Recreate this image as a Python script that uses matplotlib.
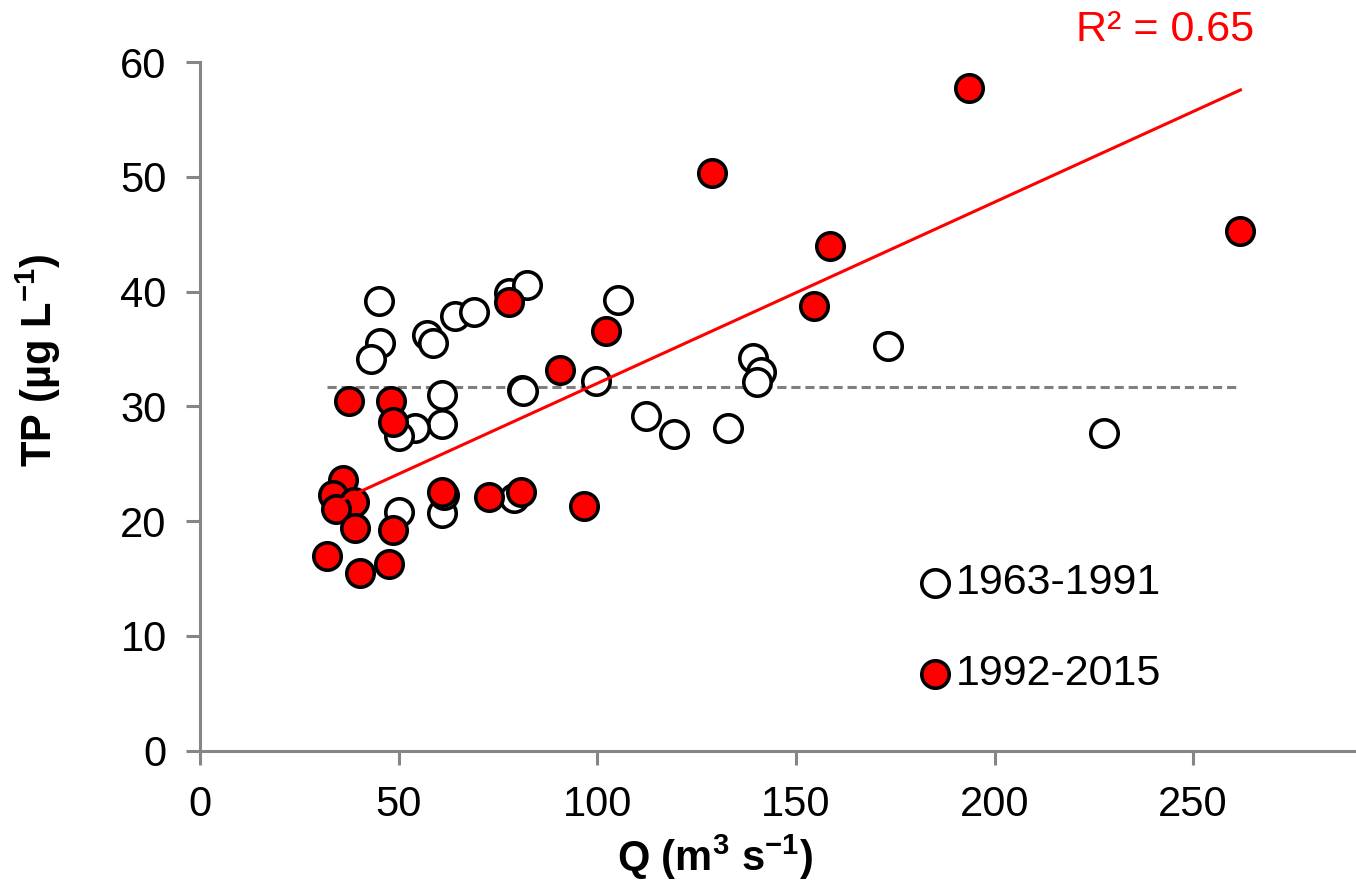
import numpy as np
import matplotlib
matplotlib.use("Agg")
import matplotlib.pyplot as plt

plt.rcParams['font.family'] = ['Liberation Sans', 'DejaVu Sans']
plt.rcParams['mathtext.fontset'] = 'custom'
plt.rcParams['mathtext.rm'] = 'Liberation Sans'
plt.rcParams['mathtext.bf'] = 'Liberation Sans:bold'

# 1963-1991 (open circles)
q_early = [45.1, 45.4, 43.1, 57.1, 58.6, 64.1, 69.0, 77.9, 82.2, 105.3,
           60.9, 60.9, 54.0, 50.2, 81.1, 81.4, 99.6, 112.3, 119.2, 133.0,
           139.3, 141.2, 140.1, 173.1, 227.6, 50.2, 60.9, 61.5, 79.0]
tp_early = [39.2, 35.5, 34.1, 36.2, 35.5, 37.9, 38.2, 39.9, 40.6, 39.3,
            31.0, 28.5, 28.1, 27.4, 31.4, 31.3, 32.2, 29.2, 27.6, 28.1,
            34.2, 33.0, 32.1, 35.3, 27.7, 20.8, 20.7, 22.3, 22.0]

# 1992-2015 (red circles)
q_late = [77.9, 102.1, 90.6, 37.4, 48.1, 48.5, 36.0, 33.6, 38.7, 34.3,
          39.1, 48.6, 31.9, 40.3, 47.5, 60.9, 72.7, 80.7, 96.6, 128.8,
          158.6, 193.5, 261.9, 154.6]
tp_late = [39.1, 36.6, 33.2, 30.5, 30.5, 28.6, 23.6, 22.3, 21.7, 21.1,
           19.4, 19.2, 17.0, 15.5, 16.3, 22.5, 22.1, 22.5, 21.3, 50.3,
           44.0, 57.7, 45.3, 38.7]

r2_label = "R² = 0.65"
x_ticks = [0, 50, 100, 150, 200, 250]
y_ticks = [0, 10, 20, 30, 40, 50, 60]

fig = plt.figure(figsize=(13.56, 8.90), dpi=100)
ax = fig.add_axes([200/1356, 1-750.7/890, (1356-200)/1356, (750.7-62)/890])

ax.set_xlim(0, 291)
ax.set_ylim(0, 60)

grey = '#868686'
for s in ['top', 'right']:
    ax.spines[s].set_visible(False)
for s in ['left', 'bottom']:
    ax.spines[s].set_color(grey)
    ax.spines[s].set_linewidth(2.2)
ax.spines['left'].set_bounds(0, 60)

ax.set_xticks(x_ticks)
ax.set_yticks(y_ticks)
ax.tick_params(axis='both', direction='out', length=10, width=2.2, color=grey,
               labelsize=30, labelcolor='black')
ax.tick_params(axis='x', pad=15)
ax.tick_params(axis='y', pad=14)

qe = np.array(q_early); te = np.array(tp_early)
ql = np.array(q_late); tl = np.array(tp_late)
q_all = np.concatenate([qe, ql])

MS = 390
MLW = 2.6

# mean line of early period (dashed)
xr = np.array([q_all.min(), q_all.max()])
ax.plot(xr, [te.mean(), te.mean()], color='#7f7f7f', lw=2.2, ls=(0, (3, 1.6)), zorder=2)

ax.scatter(qe, te, s=MS, facecolor='white', edgecolor='black', linewidth=MLW, zorder=3)
ax.scatter(ql, tl, s=MS, facecolor='#ff0000', edgecolor='black', linewidth=MLW, zorder=4)

# linear trend for later period
m, b = np.polyfit(ql, tl, 1)
xl = np.array([ql.min(), ql.max()])
ax.plot(xl, m*xl + b, color='#ff0000', lw=2.2, zorder=5)

fig.text(1165/1356, 1-30/890, r2_label, color='#ff0000', fontsize=31,
         ha='center', va='center')

# legend
ax.scatter([185], [14.6], s=MS, facecolor='white', edgecolor='black', linewidth=MLW, clip_on=False)
ax.scatter([185], [6.7], s=MS, facecolor='#ff0000', edgecolor='black', linewidth=MLW, clip_on=False)
ax.text(190.3, 14.6, "1963-1991", fontsize=31, va='center', ha='left')
ax.text(190.3, 6.7, "1992-2015", fontsize=31, va='center', ha='left')

fig.text(715/1356, 1-857/890, r'Q (m$^\mathbf{3}$ s$^\mathbf{-1}$)', fontsize=30,
         fontweight='bold', ha='center', va='center')
fig.text(38/1356, 1-360/890, r'TP (µg L$^\mathbf{-1}$)', fontsize=30,
         fontweight='bold', ha='center', va='center', rotation=90)

fig.savefig('out.png', dpi=100)
